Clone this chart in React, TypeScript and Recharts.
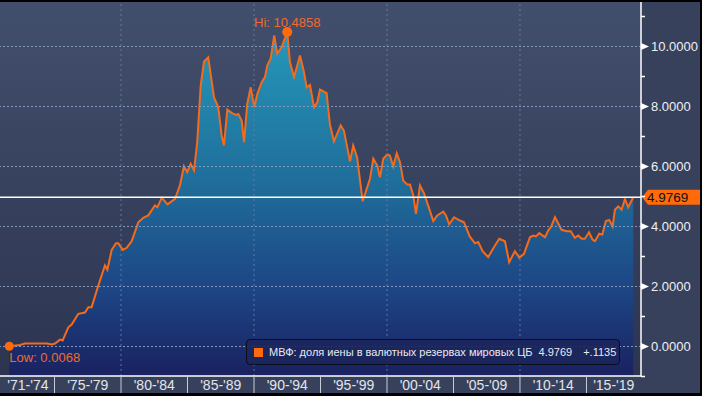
import React from "react";
import {
  AreaChart,
  Area,
  XAxis,
  YAxis,
  CartesianGrid,
  ReferenceLine,
  ReferenceDot,
  Legend,
} from "recharts";

// IMF COFER: yen share of world FX reserves, %
const years = [
  1971.6, 1972.4, 1972.78, 1974.41, 1974.79, 1975.04, 1975.41, 1975.61, 1976.04, 1976.29,
  1976.79, 1977.29, 1977.54, 1977.79, 1978.29, 1978.79, 1978.97, 1979.3, 1979.62, 1979.79,
  1980.13, 1980.43, 1980.8, 1981.3, 1981.67, 1982.05, 1982.55, 1982.73, 1983.06, 1983.5,
  1984.06, 1984.43, 1984.73, 1984.98, 1985.24, 1985.49, 1985.73, 1985.99, 1986.24, 1986.56,
  1986.99, 1987.31, 1987.57, 1987.74, 1987.99, 1988.32, 1988.64, 1988.82, 1989.07, 1989.25,
  1989.49, 1989.75, 1990.02, 1990.25, 1990.58, 1990.82, 1991.0, 1991.25, 1991.52, 1991.75,
  1992.08, 1992.5, 1992.7, 1993.01, 1993.46, 1993.76, 1993.96, 1994.21, 1994.51, 1994.76,
  1994.96, 1995.46, 1995.71, 1996.01, 1996.52, 1996.76, 1997.22, 1997.46, 1997.76, 1998.17,
  1998.72, 1998.97, 1999.27, 1999.47, 1999.72, 2000.02, 2000.22, 2000.47, 2000.73, 2000.98,
  2001.22, 2001.52, 2001.73, 2001.98, 2002.18, 2002.48, 2002.78, 2003.18, 2003.48, 2003.78,
  2004.23, 2004.43, 2004.68, 2005.04, 2005.49, 2005.79, 2006.22, 2006.61, 2006.86, 2007.19,
  2007.61, 2008.04, 2008.44, 2008.87, 2009.19, 2009.62, 2009.95, 2010.3, 2010.75, 2011.0,
  2011.2, 2011.45, 2011.88, 2012.13, 2012.33, 2012.63, 2013.13, 2013.51, 2013.81, 2014.13,
  2014.38, 2014.64, 2014.88, 2015.19, 2015.46, 2015.64, 2015.96, 2016.19, 2016.46, 2016.71,
  2016.97, 2017.14, 2017.39, 2017.64, 2017.89, 2018.14, 2018.52,
];

const yenShare = [
  0.0068, 0.05, 0.1, 0.1, 0.07, 0.1, 0.23, 0.2, 0.64, 0.73,
  1.09, 1.13, 1.31, 1.31, 2.03, 2.7, 2.56, 3.22, 3.44, 3.44,
  3.22, 3.29, 3.51, 4.14, 4.29, 4.37, 4.7, 4.64, 4.96, 4.74,
  4.92, 5.37, 6.01, 5.81, 6.09, 5.87, 6.81, 8.7, 9.5, 9.64,
  8.31, 7.98, 7.03, 6.7, 7.9, 7.79, 7.72, 7.75, 7.53, 6.81,
  8.09, 8.64, 7.98, 8.42, 8.81, 8.98, 9.37, 9.59, 10.37, 9.76,
  9.98, 10.4858, 9.48, 8.98, 9.7, 9.14, 8.64, 8.72, 7.98, 8.14,
  8.57, 8.45, 7.4, 6.84, 7.37, 7.2, 6.17, 6.7, 6.29, 4.84,
  5.59, 6.26, 6.03, 5.64, 6.26, 6.4, 6.37, 6.0, 6.44, 6.14,
  5.53, 5.4, 5.4, 5.03, 4.42, 5.37, 5.11, 4.59, 4.18, 4.37,
  4.5, 4.37, 4.07, 4.31, 4.2, 4.14, 3.67, 3.44, 3.48, 3.18,
  2.98, 3.31, 3.59, 3.51, 2.81, 3.18, 2.96, 3.09, 3.64, 3.7,
  3.67, 3.78, 3.64, 3.87, 3.98, 4.31, 3.89, 3.84, 3.84, 3.62,
  3.7, 3.59, 3.59, 3.81, 3.56, 3.51, 3.76, 3.73, 4.18, 4.22,
  4.0, 4.56, 4.67, 4.56, 4.92, 4.64, 4.9769,
];

const periodLabels = [
  "'71-'74", "'75-'79", "'80-'84", "'85-'89", "'90-'94",
  "'95-'99", "'00-'04", "'05-'09", "'10-'14", "'15-'19",
];
const periodStarts = [1971, 1975, 1980, 1985, 1990, 1995, 2000, 2005, 2010, 2015];
const gridYears = [1980, 1990, 2000, 2010];
const yTicks = [-1, 0, 1, 2, 3, 4, 5, 6, 7, 8, 9, 10, 11];
const gridValues = [0, 2, 4, 6, 8, 10];

const seriesName = "МВФ: доля иены в валютных резервах мировых ЦБ";
const lastChange = "+.1135";

const X_DOMAIN: [number, number] = [1970.9, 2019.1];
// shifted half a pixel so the 1px grid lines land on pixel centres
const Y_DOMAIN: [number, number] = [-0.9833, 11.4837];

const FONT = "'Liberation Sans', Arial, sans-serif";
const ORANGE = "#f56b1c";
const GRID = "#6a80a4";
const GRID_H = "#8298bc";

const data = years.map((year, i) => ({ year, share: yenShare[i] }));

const last = yenShare[yenShare.length - 1];
const hiValue = Math.max(...yenShare);
const hiYear = years[yenShare.indexOf(hiValue)];
const loValue = Math.min(...yenShare);
const loYear = years[yenShare.indexOf(loValue)];

// label ticks sit in the middle of the visible part of each period
const labelByTick = new Map<number, string>();
periodStarts.forEach((start, i) => {
  const from = Math.max(start, X_DOMAIN[0]);
  const to = Math.min(periodStarts[i + 1] ?? start + 5, X_DOMAIN[1]);
  labelByTick.set((from + to) / 2, periodLabels[i]);
});
const xTicks = [...periodStarts.slice(1), ...labelByTick.keys()].sort((a, b) => a - b);

function XTick({ x, y, payload }: any) {
  const label = labelByTick.get(payload.value);
  if (label === undefined) {
    return <line x1={x} x2={x} y1={y} y2={y + 18} stroke="#c8ccd4" strokeWidth={1} />;
  }
  return (
    <text x={x} y={y + 14} textAnchor="middle" fill="#e2e5ea" fontSize={14} fontFamily={FONT}>
      {label}
    </text>
  );
}

function YTick({ x, y, payload }: any) {
  const v = payload.value as number;
  if (v % 2 !== 0) {
    return <line x1={x} x2={x + 4} y1={y} y2={y} stroke="#ffffff" strokeWidth={1.5} />;
  }
  return (
    <g>
      <path d={`M${x},${y - 3.5} L${x + 8},${y} L${x},${y + 3.5} Z`} fill="#ffffff" />
      <text x={x + 10} y={y} dy="0.36em" fill="#eef0f4" fontSize={13} fontFamily={FONT}>
        {v.toFixed(4)}
      </text>
    </g>
  );
}

function ValueTag({ viewBox }: any) {
  const { x, y, width } = viewBox;
  const left = x + width + 1;
  return (
    <g>
      <path
        d={`M${left},${y} L${left + 6},${y - 7.5} L${left + 70},${y - 7.5} L${left + 70},${y + 7.5} L${left + 6},${y + 7.5} Z`}
        fill="#ff6a0c"
      />
      <text x={left + 5} y={y} dy="0.36em" fill="#101010" fontSize={13.5} fontFamily={FONT}>
        {last.toFixed(4)}
      </text>
    </g>
  );
}

function LowLabel({ viewBox }: any) {
  const { x, y, width, height } = viewBox;
  return (
    <text x={x + width / 2} y={y + height + 11} fill="#ee6b2c" fontSize={13} fontFamily={FONT}>
      {`Low: ${loValue.toFixed(4)}`}
    </text>
  );
}

function LegendBox() {
  return (
    <div
      style={{
        display: "flex",
        alignItems: "center",
        width: 374,
        height: 26,
        boxSizing: "border-box",
        border: "1.5px solid #0a0e1c",
        borderRadius: 4,
        background: "rgba(28, 38, 92, 0.9)",
        paddingLeft: 7,
        fontFamily: FONT,
        fontSize: 11,
        color: "#e8eaf0",
        whiteSpace: "nowrap",
      }}
    >
      <span style={{ flexShrink: 0, width: 9, height: 9, background: "#ff6a0c", marginRight: 6 }} />
      <span>{seriesName}</span>
      <span style={{ marginLeft: 6 }}>{last.toFixed(4)}</span>
      <span style={{ marginLeft: 11 }}>{lastChange}</span>
    </div>
  );
}

export default function App() {
  return (
    <div style={{ position: "relative", width: 702, height: 396, background: "#000" }}>
      <style>{`body{margin:0}`}</style>
      <div style={{ position: "absolute", left: 0, top: 2 }}>
        <AreaChart
          width={700}
          height={391}
          data={data}
          margin={{ top: 0, right: 0, bottom: 0, left: 0 }}
          style={{ background: "#37415c" }}
        >
          <defs>
            <linearGradient id="plotBg" x1="0" y1="0" x2="0" y2="1">
              <stop offset="0%" stopColor="#424f6c" />
              <stop offset="100%" stopColor="#2c3450" />
            </linearGradient>
            <linearGradient id="areaFill" x1="0" y1="0" x2="0" y2="1">
              <stop offset="0%" stopColor="#2598ba" />
              <stop offset="45%" stopColor="#1f6c9a" />
              <stop offset="75%" stopColor="#1d4584" />
              <stop offset="100%" stopColor="#1a2160" />
            </linearGradient>
          </defs>
          <CartesianGrid fill="url(#plotBg)" horizontal={false} vertical={false} />
          <XAxis
            type="number"
            dataKey="year"
            domain={X_DOMAIN}
            allowDataOverflow
            ticks={xTicks}
            interval={0}
            tick={<XTick />}
            tickLine={false}
            tickSize={0}
            tickMargin={0}
            height={17}
            axisLine={{ stroke: "#ffffff", strokeWidth: 1.5 }}
          />
          <YAxis
            orientation="right"
            type="number"
            domain={Y_DOMAIN}
            allowDataOverflow
            ticks={yTicks}
            interval={0}
            tick={<YTick />}
            tickLine={false}
            tickSize={0}
            tickMargin={0}
            width={59}
            axisLine={{ stroke: "#ffffff", strokeWidth: 1.5 }}
          />
          <Area
            type="linear"
            dataKey="share"
            name={seriesName}
            stroke={ORANGE}
            strokeWidth={2}
            fill="url(#areaFill)"
            fillOpacity={1}
            baseValue="dataMin"
            dot={false}
            activeDot={false}
            isAnimationActive={false}
          />
          {gridValues.map((v) => (
            <ReferenceLine key={`gy${v}`} y={v} stroke={GRID_H} strokeWidth={1.2} strokeDasharray="2 2" />
          ))}
          {gridYears.map((yr) => (
            <ReferenceLine key={`gx${yr}`} x={yr} stroke={GRID} strokeOpacity={0.85} strokeDasharray="2 3" />
          ))}
          <ReferenceLine y={last} stroke="#ffffff" strokeWidth={1.5} label={<ValueTag />} />
          <ReferenceDot
            x={hiYear}
            y={hiValue}
            r={5}
            fill="#ff6a0c"
            stroke="none"
            label={{
              value: `Hi: ${hiValue.toFixed(4)}`,
              position: "top",
              offset: 0,
              fill: "#ee6b2c",
              fontSize: 13,
              fontFamily: FONT,
            }}
          />
          <ReferenceDot
            x={loYear}
            y={loValue}
            r={4.5}
            fill="#ff6a0c"
            stroke="none"
            label={<LowLabel />}
          />
          <Legend
            layout="vertical"
            align="center"
            verticalAlign="middle"
            wrapperStyle={{ position: "absolute", left: 246, top: 337, width: "auto", height: "auto" }}
            content={() => <LegendBox />}
          />
        </AreaChart>
      </div>
    </div>
  );
}
